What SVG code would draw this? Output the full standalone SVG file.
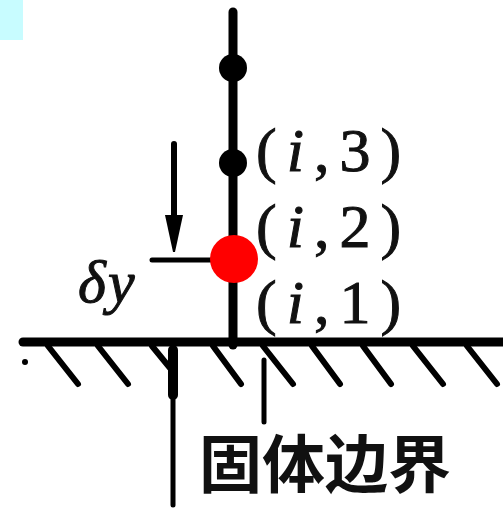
<svg xmlns="http://www.w3.org/2000/svg" width="503" height="509" viewBox="0 0 503 509">
<style>
.ln{stroke:#000;fill:none;stroke-linecap:round}
.lbl{font-family:"Liberation Serif","DejaVu Serif",serif;font-size:62px;letter-spacing:10px;fill:#111;stroke:#111;stroke-width:1}
.it{font-style:italic}
.cjk{font-family:"Noto Sans CJK SC","Noto Sans CJK JP",sans-serif;font-size:63px;font-weight:bold;fill:#111}
</style>
<rect x="0" y="0" width="23" height="40" fill="#c8fcff"/>
<g id="connectors">
<line class="ln" x1="233" y1="12" x2="233" y2="345" stroke-width="9"/>
<line class="ln" x1="152" y1="260" x2="212" y2="260" stroke-width="5"/>
<line class="ln" x1="174" y1="144" x2="174" y2="220" stroke-width="6"/>
<polygon points="165,215 183,215 175,252 173,252" fill="#000"/>
<line class="ln" x1="23" y1="342" x2="503" y2="342" stroke-width="9" stroke-linecap="butt"/>
<g class="ln" stroke-width="6">
<line x1="48" y1="346" x2="78" y2="384"/>
<line x1="98" y1="346" x2="128" y2="384"/>
<line x1="152" y1="346" x2="170" y2="368"/>
<line x1="213" y1="346" x2="241" y2="384"/>
<line x1="263" y1="346" x2="293" y2="384"/>
<line x1="312" y1="346" x2="340" y2="384"/>
<line x1="363" y1="346" x2="391" y2="384"/>
<line x1="413" y1="346" x2="443" y2="384"/>
<line x1="467" y1="346" x2="497" y2="384"/>
</g>
<circle cx="25" cy="362" r="3" fill="#000"/>
<line class="ln" x1="173" y1="345" x2="173" y2="505" stroke-width="5"/>
<line class="ln" x1="173" y1="350" x2="173" y2="395" stroke-width="10"/>
<line class="ln" x1="264" y1="360" x2="264" y2="422" stroke-width="5"/>
</g>
<g id="node-top"><circle cx="233" cy="68" r="14" fill="#000"/></g>
<g id="node-i3"><circle cx="233" cy="163" r="14" fill="#000"/>
<text class="lbl" x="256" y="171">(<tspan class="it">i</tspan>,3)</text></g>
<g id="node-i2"><circle cx="234" cy="259" r="24" fill="#ff0000"/>
<text class="lbl" x="256" y="247">(<tspan class="it">i</tspan>,2)</text></g>
<g id="node-i1"><text class="lbl" x="256" y="323">(<tspan class="it">i</tspan>,1)</text></g>
<g id="dy"><text class="lbl it" x="78" y="302" style="letter-spacing:2px;font-size:60px">δy</text></g>
<g id="boundary"><text class="cjk" x="199" y="487">固体边界</text></g>
</svg>
